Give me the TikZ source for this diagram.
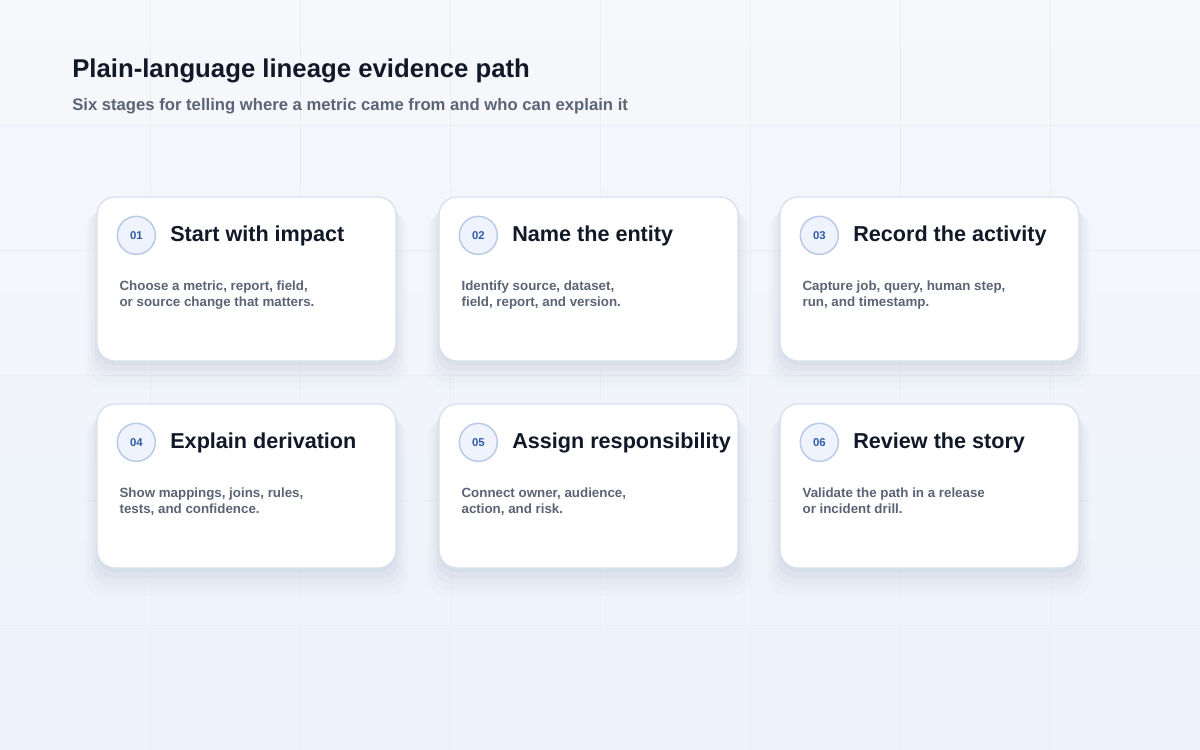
\documentclass[tikz,border=0pt]{standalone}
\usepackage{fontspec}
\setmainfont{Liberation Sans}
\usetikzlibrary{calc,positioning,shadows}

\definecolor{inkdark}{HTML}{111827}
\definecolor{inkgray}{HTML}{5B6475}
\definecolor{numblue}{HTML}{2F5BA7}
\definecolor{dotfill}{HTML}{EEF3FD}
\definecolor{dotline}{HTML}{B9CAE6}
\definecolor{cardline}{HTML}{D8E0EC}
\definecolor{bgtop}{HTML}{F6F8FB}
\definecolor{bgbottom}{HTML}{EDF2FB}
\definecolor{gridline}{HTML}{ECEFF5}
\definecolor{shadowtint}{HTML}{6E7A9E}

\tikzset{
  card/.style={draw=cardline, line width=1pt, fill=white, rounded corners=13.5pt,
    minimum width=224.25pt, minimum height=123pt, inner sep=0pt,
    general shadow={fill=shadowtint, opacity=.06, shadow yshift=-3pt, shadow scale=1.0},
    general shadow={fill=shadowtint, opacity=.045, shadow yshift=-6pt, shadow scale=1.02},
    general shadow={fill=shadowtint, opacity=.035, shadow yshift=-9pt, shadow scale=1.04},
    general shadow={fill=shadowtint, opacity=.025, shadow yshift=-12pt, shadow scale=1.06},
    general shadow={fill=shadowtint, opacity=.018, shadow yshift=-15pt, shadow scale=1.08}},
  numdot/.style={circle, draw=dotline, line width=1.1pt, fill=dotfill, minimum size=28.5pt,
    inner sep=0pt, text=numblue, font=\bfseries\fontsize{8.5}{10}\selectfont},
  cardtitle/.style={anchor=west, inner sep=0pt, text=inkdark, text height=11.8pt, text depth=2.6pt,
    font=\bfseries\fontsize{16.2}{19}\selectfont},
  cardbody/.style={anchor=north west, inner sep=0pt, align=left, text=inkgray,
    font=\bfseries\fontsize{10}{12}\selectfont}
}

\begin{document}
\begin{tikzpicture}[x=0.75pt,y=-0.75pt]
% background and faint grid
\shade[top color=bgtop, bottom color=bgbottom] (0,0) rectangle (1200,750);
\useasboundingbox (0,0) rectangle (1200,750);
\foreach \gx in {150,300,...,1050} \draw[gridline, line width=0.75pt] (\gx,0) -- (\gx,750);
\foreach \gy in {125,250,...,625} \draw[gridline, line width=0.75pt] (0,\gy) -- (1200,\gy);

% heading
\node[anchor=base west, inner sep=0pt, text=inkdark, font=\bfseries\fontsize{19.3}{23}\selectfont] (title) at (72,77)
  {Plain-language lineage evidence path};
\node[anchor=base west, inner sep=0pt, text=inkgray, font=\bfseries\fontsize{12.5}{15}\selectfont] (subtitle) at (72,110)
  {Six stages for telling where a metric came from and who can explain it};

% first row
\node[card] (c1) at (246.5,279) {};
\node[numdot] (n1) at ($(c1.north west)+(40,39)$) {01};
\node[cardtitle, right=10.5pt of n1] (t1) {Start with impact};
\node[cardbody] (b1) at ($(c1.north west)+(23,84)$) {Choose a metric, report, field,\\or source change that matters.};

\node[card] (c2) at (588.5,279) {};
\node[numdot] (n2) at ($(c2.north west)+(40,39)$) {02};
\node[cardtitle, right=10.5pt of n2] (t2) {Name the entity};
\node[cardbody] (b2) at ($(c2.north west)+(23,84)$) {Identify source, dataset,\\field, report, and version.};

\node[card] (c3) at (929.5,279) {};
\node[numdot] (n3) at ($(c3.north west)+(40,39)$) {03};
\node[cardtitle, right=10.5pt of n3] (t3) {Record the activity};
\node[cardbody] (b3) at ($(c3.north west)+(23,84)$) {Capture job, query, human step,\\run, and timestamp.};

% second row
\node[card] (c4) at (246.5,486) {};
\node[numdot] (n4) at ($(c4.north west)+(40,39)$) {04};
\node[cardtitle, right=10.5pt of n4] (t4) {Explain derivation};
\node[cardbody] (b4) at ($(c4.north west)+(23,84)$) {Show mappings, joins, rules,\\tests, and confidence.};

\node[card] (c5) at (588.5,486) {};
\node[numdot] (n5) at ($(c5.north west)+(40,39)$) {05};
\node[cardtitle, right=10.5pt of n5] (t5) {Assign responsibility};
\node[cardbody] (b5) at ($(c5.north west)+(23,84)$) {Connect owner, audience,\\action, and risk.};

\node[card] (c6) at (929.5,486) {};
\node[numdot] (n6) at ($(c6.north west)+(40,39)$) {06};
\node[cardtitle, right=10.5pt of n6] (t6) {Review the story};
\node[cardbody] (b6) at ($(c6.north west)+(23,84)$) {Validate the path in a release\\or incident drill.};
\end{tikzpicture}
\end{document}
